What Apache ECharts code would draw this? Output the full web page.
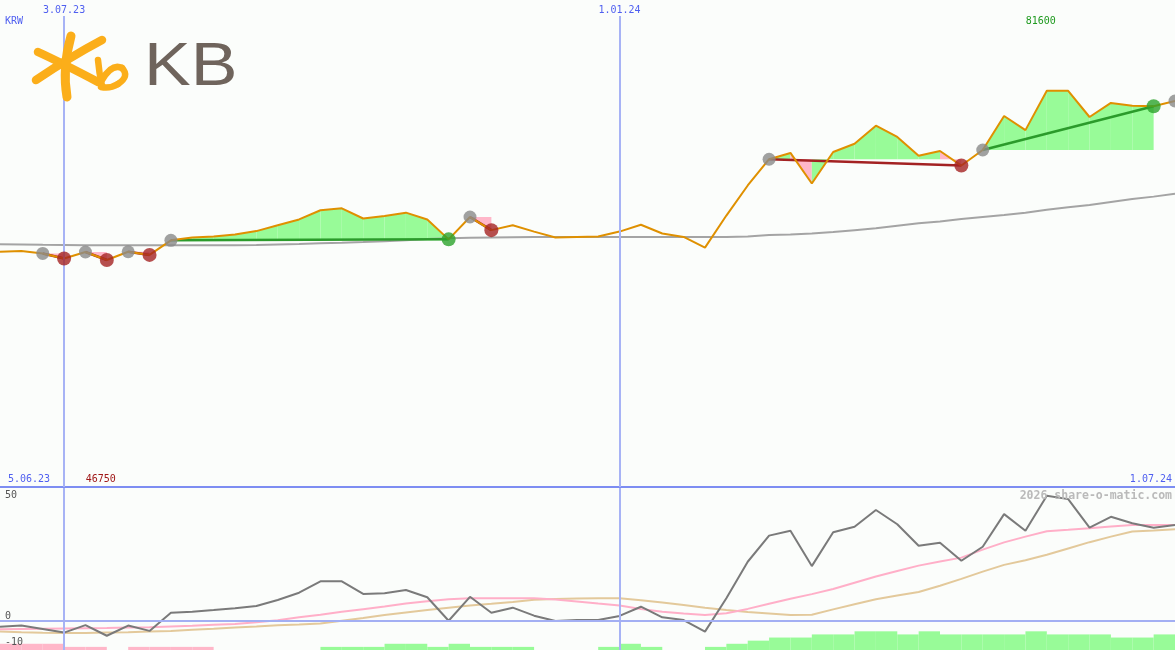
<!DOCTYPE html>
<html><head><meta charset="utf-8">
<script src="https://cdn.jsdelivr.net/npm/echarts@6/dist/echarts.min.js"></script>
<style>html,body{margin:0;padding:0;background:#fbfdfb}#c{width:1175px;height:650px}</style>
</head><body><div id="c"></div>
<script>
// ---------- data ----------
const currency = 'KRW';
const firstWeek = '2023-06-12';
const weekCount = 56;
const weeks = [];
(function(){ const d0 = new Date(firstWeek + 'T00:00:00Z');
  for (let i = 0; i < weekCount; i++) { const d = new Date(d0.getTime() + i*7*86400000);
    weeks.push(d.getUTCDate() + '.' + String(d.getUTCMonth()+1).padStart(2,'0') + '.' + String(d.getUTCFullYear()).slice(2)); } })();

const price = [48450, 48600, 48100, 47050, 48400, 46750, 48450, 47800, 50800, 51400,
  51600, 52000, 52700, 53900, 55100, 57000, 57400, 55300, 55800, 56500,
  55100, 51000, 55600, 52900, 53900, 52600, 51400, 51500, 51600, 52600,
  54000, 52200, 51500, 49300, 55900, 62100, 67500, 68800, 62500, 69000,
  70700, 74400, 72100, 68200, 69200, 66200, 69400, 76400, 73500, 81600,
  81600, 76200, 79100, 78500, 78400, 79500];

const priceAvg = [50000, 49950, 49890, 49850, 49800, 49780, 49780, 49780, 49780, 49780,
  49780, 49800, 49850, 49950, 50050, 50200, 50300, 50460, 50630, 50810,
  51080, 51230, 51310, 51390, 51450, 51500, 51500, 51500, 51500, 51500,
  51500, 51500, 51500, 51500, 51500, 51600, 51900, 52000, 52200, 52500,
  52900, 53300, 53800, 54300, 54700, 55200, 55600, 56000, 56500, 57100,
  57600, 58100, 58700, 59300, 59800, 60400];

const oscillator = [-2.4, -1.9, -3.3, -4.8, -1.7, -6.1, -1.9, -4.1, 3.4, 3.8,
  4.5, 5.3, 6.2, 8.7, 11.7, 16.4, 16.4, 11.2, 11.5, 12.8,
  9.8, 0.1, 10.0, 3.4, 5.5, 2.2, 0.0, 0.4, 0.4, 2.1,
  5.9, 1.5, 0.4, -4.4, 9.4, 24.5, 35.3, 37.3, 22.7, 36.7,
  39.0, 45.9, 40.0, 31.1, 32.4, 24.9, 30.7, 44.2, 37.3, 51.8,
  50.4, 38.6, 43.1, 40.4, 38.6, 39.7];

const oscFast = [-3.4, -3.3, -3.2, -3.1, -3.0, -2.9, -2.7, -2.6, -2.3, -2.0,
  -1.6, -1.2, -0.5, 0.3, 1.5, 2.6, 3.8, 4.9, 6.0, 7.2,
  8.2, 9.0, 9.4, 9.4, 9.4, 9.4, 8.9, 8.1, 7.2, 6.4,
  5.0, 3.8, 3.1, 2.5, 3.2, 5.0, 7.1, 9.2, 11.1, 13.2,
  15.8, 18.4, 20.7, 22.9, 24.6, 26.2, 29.5, 32.5, 34.9, 37.1,
  37.7, 38.4, 39.1, 39.7, 39.7, 39.7];

const oscSlow = [-4.4, -4.7, -4.9, -5.0, -5.0, -4.8, -4.7, -4.4, -4.1, -3.6,
  -3.2, -2.7, -2.3, -1.8, -1.5, -1.0, 0.1, 1.2, 2.5, 3.5,
  4.5, 5.5, 6.4, 7.1, 7.9, 8.8, 9.1, 9.3, 9.4, 9.4,
  8.6, 7.6, 6.6, 5.5, 4.5, 3.7, 3.1, 2.5, 2.6, 4.8,
  6.9, 9.0, 10.5, 12.0, 14.6, 17.4, 20.4, 23.2, 25.1, 27.4,
  30.0, 32.6, 34.9, 37.0, 37.4, 37.9];

// signal strength per week interval (negative = pink, positive = green)
const signalBars = [-2, -2, -2, -1, -1, 0, -1, -1, -1, -1,
  0, 0, 0, 0, 0, 1, 1, 1, 2, 2,
  1, 2, 1, 1, 1, 0, 0, 0, 1, 2,
  1, 0, 0, 1, 2, 3, 4, 4, 5, 5,
  6, 6, 5, 6, 5, 5, 5, 5, 6, 5,
  5, 5, 4, 4, 5];

// trades: [entry week index, exit week index]
const trades = [[2,3],[4,5],[6,7],[8,21],[22,23],[36,45],[46,54]];
const openEntries = [55];

const markerWeeks = [3, 29];
const markerLabels = ['3.07.23', '1.01.24'];
const rangeLabels = ['5.06.23', '1.07.24'];
const bottomTicks = [50, 0, -10];
const watermark = '2026 share-o-matic.com';

// ---------- styles ----------
const BG = '#fbfdfb', GREEN_FILL = '#98fb98', PINK_FILL = '#ffb7c9';
const MONO = 'DejaVu Sans Mono';
const BLUE_TXT = '#4f5ff0';

// ---------- derived ----------
const fillItems = [];
trades.forEach(([s, e]) => { for (let k = s; k < e; k++) fillItems.push([k, price[s], price[k], price[k+1]]); });
const tradeLines = trades.map(([s, e]) => [s, price[s], e, price[e]]);
const entryPts = trades.map(([s]) => [s, price[s]]).concat(openEntries.map(s => [s, price[s]]));
const winPts = trades.filter(([s,e]) => price[e] >= price[s]).map(([s,e]) => [e, price[e]]);
const lossPts = trades.filter(([s,e]) => price[e] < price[s]).map(([s,e]) => [e, price[e]]);
const barItems = signalBars.map((v, k) => [k, v]);

const chart = echarts.init(document.getElementById('c'), null, {renderer: 'canvas'});

const vLine = (withLabel) => ({
  silent: true, symbol: ['none','none'], animation: false,
  lineStyle: {color: '#a7b3f5', width: 2, type: 'solid'},
  label: withLabel ? {show: true, position: 'end', distance: 1, formatter: p => p.name,
    color: BLUE_TXT, fontFamily: MONO, fontSize: 10} : {show: false},
  data: markerWeeks.map((w, j) => ({xAxis: w, name: markerLabels[j]}))
});

const option = {
  backgroundColor: BG,
  animation: false,
  grid: [
    {left: 0, right: 0, top: 16, height: 471},
    {left: 0, right: 0, top: 488, bottom: 0}
  ],
  xAxis: [
    {type: 'category', data: weeks, boundaryGap: false, gridIndex: 0,
     axisLine: {show: true, lineStyle: {color: '#7d8df2', width: 2}},
     axisTick: {show: false}, axisLabel: {show: false}, splitLine: {show: false}},
    {type: 'category', data: weeks, boundaryGap: false, gridIndex: 1,
     axisLine: {show: false}, axisTick: {show: false}, axisLabel: {show: false}, splitLine: {show: false}}
  ],
  yAxis: [
    {type: 'value', gridIndex: 0, min: 0, max: 97000, show: false},
    {type: 'value', gridIndex: 1, min: -12, max: 55, show: false},
    {type: 'value', gridIndex: 1, min: 0, max: 52, show: false}
  ],
  series: [
    { // trade fills
      type: 'custom', xAxisIndex: 0, yAxisIndex: 0, z: 1, silent: true,
      data: fillItems,
      renderItem: (params, api) => {
        const k = api.value(0), ref = api.value(1), a = api.value(2), b = api.value(3);
        return {type: 'polygon', shape: {points: [api.coord([k, ref]), api.coord([k, a]), api.coord([k+1, b]), api.coord([k+1, ref])]},
          style: {fill: b >= ref ? GREEN_FILL : PINK_FILL, stroke: null}};
      }
    },
    { // long average
      type: 'line', xAxisIndex: 0, yAxisIndex: 0, z: 2, data: priceAvg, symbol: 'none',
      lineStyle: {color: '#a4a4a4', width: 2}, silent: true,
      markLine: vLine(true)
    },
    { // trade lines
      type: 'custom', xAxisIndex: 0, yAxisIndex: 0, z: 3, silent: true,
      data: tradeLines,
      renderItem: (params, api) => {
        const p1 = api.coord([api.value(0), api.value(1)]), p2 = api.coord([api.value(2), api.value(3)]);
        return {type: 'line', shape: {x1: p1[0], y1: p1[1], x2: p2[0], y2: p2[1]},
          style: {stroke: api.value(3) >= api.value(1) ? '#2b9b2b' : '#a32222', lineWidth: 2.5}};
      }
    },
    { // price
      type: 'line', xAxisIndex: 0, yAxisIndex: 0, z: 4, data: price, symbol: 'none',
      lineStyle: {color: '#df9000', width: 2}, silent: true
    },
    {type: 'scatter', xAxisIndex: 0, yAxisIndex: 0, z: 5, data: entryPts, symbolSize: 13,
     itemStyle: {color: '#8a8a8a'}, silent: true},
    {type: 'scatter', xAxisIndex: 0, yAxisIndex: 0, z: 5, data: lossPts, symbolSize: 14,
     itemStyle: {color: '#a52323'}, silent: true},
    {type: 'scatter', xAxisIndex: 0, yAxisIndex: 0, z: 5, data: winPts, symbolSize: 14,
     itemStyle: {color: '#2ca22c'}, silent: true},
    { // signal bars
      type: 'custom', xAxisIndex: 1, yAxisIndex: 2, z: 1, silent: true,
      data: barItems,
      renderItem: (params, api) => {
        const k = api.value(0), v = api.value(1);
        if (!v) return null;
        const p0 = api.coord([k, 0]), p1 = api.coord([k+1, Math.abs(v)]);
        return {type: 'rect', shape: {x: p0[0], y: p1[1], width: p1[0]-p0[0], height: p0[1]-p1[1]},
          style: {fill: v > 0 ? GREEN_FILL : PINK_FILL}};
      }
    },
    { // slow average of oscillator
      type: 'line', xAxisIndex: 1, yAxisIndex: 1, z: 2, data: oscSlow, symbol: 'none',
      lineStyle: {color: '#e3c99b', width: 2}, silent: true,
      markLine: {
        silent: true, symbol: ['none','none'], animation: false,
        lineStyle: {color: '#a7b3f5', width: 2, type: 'solid'},
        label: {show: false},
        data: markerWeeks.map(w => ({xAxis: w})).concat(bottomTicks.map(t => ({
          yAxis: t,
          lineStyle: {color: t === 0 ? '#a3aff3' : 'rgba(0,0,0,0)', width: 2, type: 'solid'},
          label: {show: true, position: 'insideStartTop', distance: [5, t < 0 ? -2 : 0], formatter: String(t),
            color: '#555555', fontFamily: MONO, fontSize: 10}
        })))
      }
    },
    {type: 'line', xAxisIndex: 1, yAxisIndex: 1, z: 3, data: oscFast, symbol: 'none',
     lineStyle: {color: '#ffafc8', width: 2}, silent: true},
    {type: 'line', xAxisIndex: 1, yAxisIndex: 1, z: 4, data: oscillator, symbol: 'none',
     lineStyle: {color: '#7a7a7a', width: 2}, silent: true}
  ]
};
chart.setOption(option);

// labels that follow the data extremes
const pMax = Math.max(...price), pMin = Math.min(...price);
const xMax = chart.convertToPixel({xAxisIndex: 0}, price.indexOf(pMax));
const xMin = chart.convertToPixel({xAxisIndex: 0}, price.indexOf(pMin));

const LOGO = '#fbae1a';
const qc = (x1, y1, cx, cy, x2, y2, w) => ({type: 'bezierCurve', z: 20,
  shape: {x1: x1, y1: y1, cpx1: cx, cpy1: cy, x2: x2, y2: y2},
  style: {fill: null, stroke: LOGO, lineWidth: w || 8.5, lineCap: 'round'}});
const txt = (x, y, text, color, align, font) => ({type: 'text', x: x, y: y, z: 20,
  style: {text: text, font: font || ('10px ' + MONO), fill: color, align: align || 'left', verticalAlign: 'middle'}});

const kb = txt(144, 68, 'KB', '#6f645c', 'left', '62px "Liberation Sans"');
kb.scaleX = 1.13;

chart.setOption({graphic: [
  txt(5, 21, currency, BLUE_TXT),
  txt(xMax - 6, 21, String(pMax), '#1f9a1f', 'center'),
  txt(xMin - 6, 479, String(pMin), '#a01818', 'center'),
  txt(8, 479, rangeLabels[0], BLUE_TXT),
  txt(1172, 479, rangeLabels[1], BLUE_TXT, 'right'),
  txt(1172, 496, watermark, '#bababa', 'right', 'bold 11.5px ' + MONO),
  qc(38, 52, 62, 63, 98, 82),
  qc(102, 40, 70, 57, 36, 80),
  qc(71, 36, 62, 68, 67, 97, 9),
  qc(98, 60, 99, 72, 102, 86, 6.5),
  qc(102, 80, 112, 63, 122, 68, 6.5),
  qc(122, 68, 130, 76, 118, 84, 6.5),
  qc(118, 84, 110, 89, 101, 87, 6.5),
  kb
]});
</script>
</body></html>
